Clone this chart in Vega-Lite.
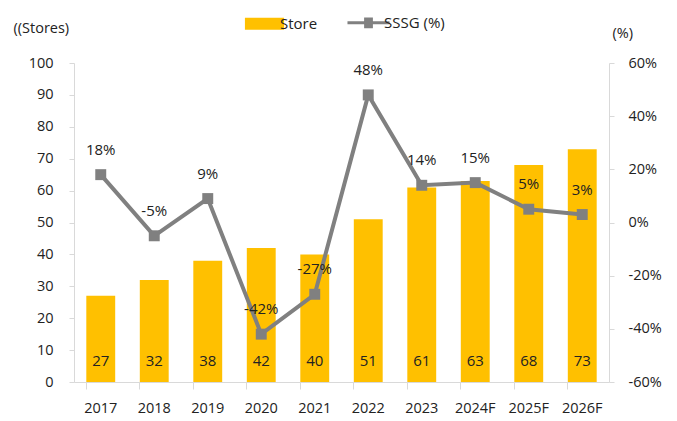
{
  "$schema": "https://vega.github.io/schema/vega-lite/v6.json",
  "width": 535,
  "height": 319,
  "autosize": {"type": "none"},
  "padding": {"left": 74, "top": 63, "right": 68, "bottom": 39},
  "config": {
    "view": {"stroke": null},
    "font": "Open Sans",
    "axis": {"labelFont": "Open Sans", "labelFontSize": 14.5, "labelColor": "#222222", "domainColor": "#d9d9d9", "tickColor": "#d9d9d9", "grid": false, "labelOverlap": false, "titleFont": "Open Sans", "titleFontSize": 14.5, "titleFontWeight": "normal", "titleColor": "#222222"}
  },
  "data": {
    "values": [
      {"year": "2017", "store": 27, "sssg": 18},
      {"year": "2018", "store": 32, "sssg": -5},
      {"year": "2019", "store": 38, "sssg": 9},
      {"year": "2020", "store": 42, "sssg": -42},
      {"year": "2021", "store": 40, "sssg": -27},
      {"year": "2022", "store": 51, "sssg": 48},
      {"year": "2023", "store": 61, "sssg": 14},
      {"year": "2024F", "store": 63, "sssg": 15},
      {"year": "2025F", "store": 68, "sssg": 5},
      {"year": "2026F", "store": 73, "sssg": 3}
    ]
  },
  "encoding": {
    "x": {"field": "year", "type": "nominal", "sort": null, "title": null,
      "scale": {"paddingInner": 0.46, "paddingOuter": 0.23},
      "axis": {"labelAngle": 0, "tickSize": 7, "labelPadding": 12, "bandPosition": 0, "domainColor": "#d9d9d9"}}
  },
  "layer": [
    {
      "layer": [
        {
          "mark": {"type": "bar", "color": "#FFC000"},
          "encoding": {
            "y": {"field": "store", "type": "quantitative", "scale": {"domain": [0, 100]},
              "title": "((Stores)",
              "axis": {"values": [0,10,20,30,40,50,60,70,80,90,100], "labelOverlap": false, "tickSize": 5, "labelPadding": 16, "titleAngle": 0, "titleAlign": "left", "titleBaseline": "middle", "titleX": -61, "titleY": -35}},
            "color": {"datum": "Store", "type": "nominal",
              "scale": {"domain": ["Store", "SSSG (%)"], "range": ["#FFC000", "#808080"]},
              "legend": {"title": null, "orient": "none", "legendX": 183, "legendY": -48, "direction": "horizontal", "labelFontSize": 15, "labelFont": "Open Sans", "labelColor": "#222222", "symbolSize": 841, "columnPadding": 23, "labelOffset": 8,
                "encode": {"symbols": {"update": {
                  "shape": {"signal": "datum.value === 'Store' ? 'M-1.35,-0.42H1.35V0.42H-1.35Z' : 'M-1.45,0H1.45M-0.2,-0.26H0.2V0.26H-0.2Z'"},
                  "size": {"value": 841},
                  "fill": {"signal": "datum.value === 'Store' ? '#FFC000' : '#808080'"},
                  "stroke": {"signal": "datum.value === 'Store' ? '#FFC000' : '#808080'"},
                  "strokeWidth": {"signal": "datum.value === 'Store' ? 0 : 3"},
                  "opacity": {"value": 1}
                }}}}
            }
          }
        },
        {
          "mark": {"type": "text", "fontSize": 15, "color": "#222222", "dy": -21},
          "encoding": {
            "y": {"datum": 0, "type": "quantitative",
              "axis": {"values": [0,10,20,30,40,50,60,70,80,90,100], "labelOverlap": false, "tickSize": 5, "labelPadding": 16, "titleAngle": 0, "titleAlign": "left", "titleBaseline": "middle", "titleX": -61, "titleY": -35}},
            "text": {"field": "store", "type": "quantitative"}
          }
        }
      ]
    },
    {
      "layer": [
        {
          "mark": {"type": "line", "strokeWidth": 4, "color": "#808080", "point": {"shape": "square", "size": 120, "filled": true, "color": "#808080"}},
          "encoding": {
            "y": {"field": "sssg", "type": "quantitative", "scale": {"domain": [-60, 60]},
              "title": "(%)",
              "axis": {"orient": "right", "values": [-60,-40,-20,0,20,40,60], "labelExpr": "datum.value + '%'", "tickSize": 5, "labelPadding": 14, "titleAngle": 0, "titleAlign": "left", "titleBaseline": "middle", "titleX": 3, "titleY": -30}},
            "color": {"datum": "SSSG (%)", "type": "nominal"}
          }
        },
        {
          "mark": {"type": "text", "fontSize": 15, "color": "#222222", "dy": -25, "text": {"expr": "datum.sssg + '%'"}},
          "encoding": {
            "y": {"field": "sssg", "type": "quantitative"}
          }
        }
      ]
    }
  ],
  "resolve": {"scale": {"y": "independent"}}
}
